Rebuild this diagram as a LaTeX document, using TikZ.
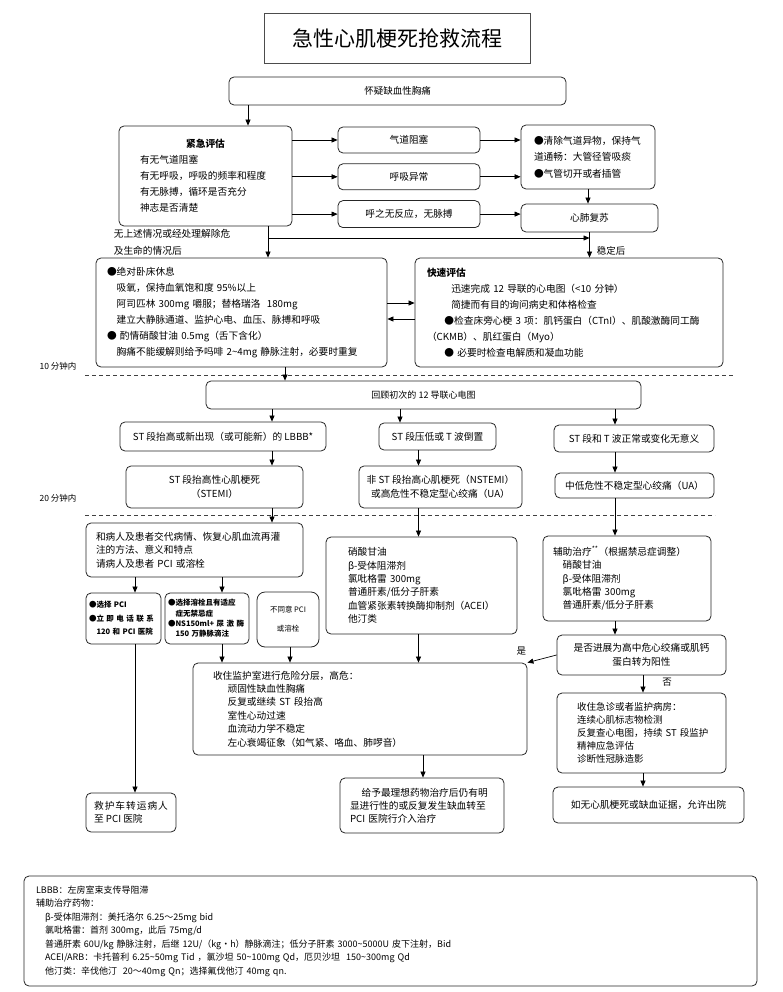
\documentclass[tikz,border=0pt]{standalone}
\usepackage{fontspec}
\setmainfont{Noto Sans CJK SC}
\usetikzlibrary{arrows.meta, positioning}

\begin{document}
\begin{tikzpicture}[x=1pt, y=-1pt,
      box/.style={draw=black!85, line width=0.8pt, rounded corners=5pt, inner sep=0pt, align=center, font=\fontsize{9.7}{14}\selectfont},
      lbox/.style={box, align=left},
      tinybox/.style={box, align=left, font=\fontsize{7.5}{13.5}\selectfont\bfseries},
      arr/.style={-{Triangle[length=6pt, width=5pt]}, line width=0.7pt},
      lbl/.style={font=\fontsize{9.5}{12}\selectfont, inner sep=1pt},
      sep/.style={dash pattern=on 4pt off 3pt, line width=0.8pt, black!75},
    ]
    \useasboundingbox (0,0) rectangle (782,992);

    \node[draw=black!70, line width=0.8pt, minimum width=266pt, minimum height=50pt, font=\fontsize{21}{24}\selectfont] (title) at (397,38) {急性心肌梗死抢救流程};
    \node[box, minimum width=337pt, minimum height=28pt, font=\fontsize{9.5}{12}\selectfont] (suspect) at (397.5,91) {怀疑缺血性胸痛};

    \node[lbox, minimum width=173pt, minimum height=100pt, text width=131pt, font=\fontsize{9.7}{16}\selectfont] (emg_eval) at (205.5,176) {\makebox[\linewidth]{\textbf{紧急评估}}\\有无气道阻塞\\有无呼吸，呼吸的频率和程度\\有无脉搏，循环是否充分\\神志是否清楚};
    \node[box, minimum width=142pt, minimum height=26pt] (airway) at (409,140) {气道阻塞};
    \node[box, minimum width=142pt, minimum height=26pt, below=10pt of airway] (breath) {呼吸异常};
    \node[box, minimum width=142pt, minimum height=27pt, below=10pt of breath] (nopulse) {呼之无反应，无脉搏};
    \node[lbox, minimum width=134pt, minimum height=64pt, text width=108pt, font=\fontsize{9.7}{16.5}\selectfont] (clear) at (588,157) {●清除气道异物，保持气\\道通畅：大管径管吸痰\\●气管切开或者插管};
    \node[box, minimum width=137pt, minimum height=28pt] (cpr) at (589.5,218) {心肺复苏};

    \node[lbl, anchor=north west, align=left, font=\fontsize{9.7}{17}\selectfont] (escape_note) at ([xshift=-6pt, yshift=-2pt]emg_eval.south west) {无上述情况或经处理解除危\\及生命的情况后};

    \node[lbox, minimum width=291pt, minimum height=109pt, text width=269pt, font=\fontsize{9.7}{16}\selectfont] (rest) at (241.5,312.5) {●绝对卧床休息\\\hspace*{1em}吸氧，保持血氧饱和度~95\%以上\\\hspace*{1em}阿司匹林~300mg~嚼服；替格瑞洛~~180mg\\\hspace*{1em}建立大静脉通道、监护心电、血压、脉搏和呼吸\\●~酌情硝酸甘油~0.5mg（舌下含化）\\\hspace*{1em}胸痛不能缓解则给予吗啡~2\textasciitilde4mg~静脉注射，必要时重复};
    \node[lbox, minimum width=308pt, minimum height=109pt, text width=284pt, font=\fontsize{9.7}{16}\selectfont] (quick) at (569,312.5) {\textbf{快速评估}\\\hspace*{2.5em}迅速完成~12~导联的心电图（<10~分钟）\\\hspace*{2.5em}简捷而有目的询问病史和体格检查\\\hspace*{1.8em}●检查床旁心梗~3~项：肌钙蛋白（CTnI）、肌酸激酶同工酶\\（CKMB）、肌红蛋白（Myo）\\\hspace*{1.8em}●~必要时检查电解质和凝血功能};

    \node[font=\fontsize{8.5}{10}\selectfont] (mark_10) at (58,366) {10 分钟内};
    \node[font=\fontsize{8.5}{10}\selectfont] (mark_20) at (58,498) {20 分钟内};
    \draw[sep] (85,375) -- (735,375);
    \draw[sep] (85,515) -- (715,515);

    \node[box, minimum width=435pt, minimum height=28pt, font=\fontsize{9}{12}\selectfont] (review) at (423.5,395) {回顾初次的 12 导联心电图};
    \node[box, minimum width=206pt, minimum height=29pt] (st_up) at (223,436.5) {ST 段抬高或新出现（或可能新）的 LBBB*};
    \node[box, minimum width=117pt, minimum height=27pt] (st_down) at (437.5,436.5) {ST 段压低或 T 波倒置};
    \node[box, minimum width=160pt, minimum height=27pt] (st_norm) at (634,438.5) {ST 段和 T 波正常或变化无意义};
    \node[box, minimum width=177pt, minimum height=42pt] (stemi) at (214.5,487) {ST 段抬高性心肌梗死\\（STEMI）};
    \node[box, minimum width=163pt, minimum height=42pt] (nstemi) at (440.5,487) {非 ST 段抬高心肌梗死（NSTEMI）\\或高危性不稳定型心绞痛（UA）};
    \node[box, minimum width=159pt, minimum height=25pt] (ua) at (634.5,485.5) {中低危性不稳定型心绞痛（UA）};

    \node[lbox, minimum width=217pt, minimum height=54pt, text width=197pt, font=\fontsize{9.7}{13.5}\selectfont] (inform) at (194.5,550) {和病人及患者交代病情、恢复心肌血流再灌\\注的方法、意义和特点\\请病人及患者~PCI~或溶栓};
    \node[tinybox, minimum width=75pt, minimum height=51pt, text width=69pt] (pci) at (123.5,618.5) {●选择~PCI\\●立~即~电~话~联~系\\\hspace*{1em}120~和~PCI~医院};
    \node[tinybox, minimum width=84pt, minimum height=51pt, text width=78pt, font=\fontsize{7.5}{10.4}\selectfont\bfseries] (lysis) at (207,618.5) {●选择溶栓且有适应\\\hspace*{1em}症无禁忌症\\●NS150ml+~尿~激~酶\\\hspace*{1em}150~万静脉滴注};
    \node[box, rounded corners=8pt, minimum width=62pt, minimum height=55pt, font=\fontsize{7.5}{10}\selectfont] (refuse) at (288,619.5) {不同意 PCI\\[9pt]或溶栓};
    \node[lbox, minimum width=191pt, minimum height=97pt, text width=147pt, font=\fontsize{9.7}{13.3}\selectfont] (ns_drug) at (421.5,585.5) {硝酸甘油\\β-受体阻滞剂\\氯吡格雷~300mg\\普通肝素/低分子肝素\\血管紧张素转换酶抑制剂（ACEI）\\他汀类};
    \node[lbox, minimum width=168pt, minimum height=85pt, text width=148pt, font=\fontsize{9.7}{13.3}\selectfont] (ua_drug) at (627,578.5) {辅助治疗\textsuperscript{**}（根据禁忌症调整）\\\hspace*{1em}硝酸甘油\\\hspace*{1em}β-受体阻滞剂\\\hspace*{1em}氯吡格雷~300mg\\\hspace*{1em}普通肝素/低分子肝素};
    \node[box, minimum width=169pt, minimum height=40pt] (progress) at (641.5,655) {是否进展为高中危心绞痛或肌钙\\蛋白转为阳性};

    \node[lbox, minimum width=334pt, minimum height=92pt, text width=294pt, font=\fontsize{9.7}{13.4}\selectfont] (ccu) at (360,709) {收住监护室进行危险分层，高危：\\\hspace*{1.5em}顽固性缺血性胸痛\\\hspace*{1.5em}反复或继续~ST~段抬高\\\hspace*{1.5em}室性心动过速\\\hspace*{1.5em}血流动力学不稳定\\\hspace*{1.5em}左心衰竭征象（如气紧、咯血、肺啰音）};
    \node[lbox, minimum width=169pt, minimum height=80pt, text width=129pt, font=\fontsize{9.5}{13}\selectfont] (observe) at (641.5,733) {收住急诊或者监护病房：\\连续心肌标志物检测\\反复查心电图，持续~ST~段监护\\精神应急评估\\诊断性冠脉造影};
    \node[box, minimum width=90pt, minimum height=39pt, align=left, font=\fontsize{9.7}{13}\selectfont] (ambulance) at (131,812.5) {救\hspace{1pt}护\hspace{1pt}车\hspace{1pt}转\hspace{1pt}运\hspace{1pt}病\hspace{1pt}人\\至 PCI 医院};
    \node[lbox, minimum width=164pt, minimum height=55pt, text width=144pt, font=\fontsize{9.7}{13}\selectfont] (refer) at (422,805.5) {\hspace*{1.2em}给予最理想药物治疗后仍有明\\显进行性的或反复发生缺血转至\\PCI~医院行介入治疗};
    \node[box, minimum width=191pt, minimum height=36pt] (discharge) at (648.5,805) {如无心肌梗死或缺血证据，允许出院};

    \node[lbox, minimum width=733pt, minimum height=110pt, text width=709pt, font=\fontsize{9}{13.5}\selectfont] (legend) at (390.5,931) {LBBB：左房室束支传导阻滞\\辅助治疗药物：\\\hspace*{1em}β-受体阻滞剂：美托洛尔~6.25～25mg~bid\\\hspace*{1em}氯吡格雷：首剂~300mg，此后~75mg/d\\\hspace*{1em}普通肝素~60U/kg~静脉注射，后继~12U/（kg・h）静脉滴注；低分子肝素~3000\textasciitilde5000U~皮下注射，Bid\\\hspace*{1em}ACEI/ARB：卡托普利~6.25\textasciitilde50mg~Tid~，氯沙坦~50\textasciitilde100mg~Qd，厄贝沙坦~~150\textasciitilde300mg~Qd\\\hspace*{1em}他汀类：辛伐他汀~~20～40mg~Qn；选择氟伐他汀~40mg~qn.};

    \coordinate (lane_emg) at (248,0);
    \coordinate (lane_rest) at (268,0);
    \coordinate (lane_review) at (285,0);
    \coordinate (lane_stemi) at (272,0);
    \coordinate (lane_stdown) at (400,0);
    \coordinate (lane_nstemi) at (418.5,0);
    \coordinate (lane_ua) at (615,0);
    \coordinate (lane_pci) at (135,0);
    \coordinate (lane_lysis) at (222,0);
    \coordinate (lane_refuse) at (290,0);
    \coordinate (lane_refer) at (423,0);
    \coordinate (lane_observe) at (643,0);
    \coordinate (bend_cpr) at (268,238);

    \draw[arr] (suspect.south -| lane_emg) -- (emg_eval.north -| lane_emg);
    \draw[arr] (emg_eval.east |- airway) -- (airway);
    \draw[arr] (emg_eval.east |- breath) -- (breath);
    \draw[arr] (emg_eval.east |- nopulse) -- (nopulse);
    \draw[arr] (airway.east) -- (airway.east -| clear.west);
    \draw[arr] (breath.east) -- (breath.east -| clear.west);
    \draw[arr] (nopulse.east) -- (nopulse.east -| cpr.west);
    \draw[arr] (clear.south) -- (clear.south |- cpr.north);

    \draw[arr] (emg_eval.south -| lane_rest) -- (rest.north -| lane_rest);
    \draw[arr] (bend_cpr) -- (bend_cpr -| cpr.south);
    \draw[arr] (cpr.south) -- node[lbl, right, pos=0.75, xshift=6pt] {稳定后} (cpr.south |- quick.north);
    \draw[arr] ([yshift=9.5pt]rest.east) -- ([yshift=9.5pt]quick.west);
    \draw[arr] ([yshift=-6.5pt]quick.west) -- ([yshift=-6.5pt]rest.east);

    \draw[arr] (rest.south -| lane_review) -- (review.north -| lane_review);
    \draw[arr] (review.south -| lane_stemi) -- (st_up.north -| lane_stemi);
    \draw[arr] (review.south -| lane_stdown) -- (st_down.north -| lane_stdown);
    \draw[arr] (review.south -| lane_ua) -- (st_norm.north -| lane_ua);
    \draw[arr] (st_up.south -| lane_stemi) -- (stemi.north -| lane_stemi);
    \draw[arr] (st_down.south -| lane_nstemi) -- (nstemi.north -| lane_nstemi);
    \draw[arr] (st_norm.south -| lane_ua) -- (ua.north -| lane_ua);

    \draw[arr] (stemi.south -| lane_stemi) -- (inform.north -| lane_stemi);
    \draw[arr] (nstemi.south -| lane_nstemi) -- (ns_drug.north -| lane_nstemi);
    \draw[arr] (ua.south -| lane_ua) -- (ua_drug.north -| lane_ua);
    \draw[arr] (inform.south -| lane_pci) -- (pci.north -| lane_pci);
    \draw[arr] (inform.south -| lane_lysis) -- (lysis.north -| lane_lysis);
    \draw[arr] (pci.south -| lane_pci) -- (ambulance.north -| lane_pci);
    \draw[arr] (lysis.south -| lane_lysis) -- (ccu.north -| lane_lysis);
    \draw[arr] (refuse.south -| lane_refuse) -- (ccu.north -| lane_refuse);
    \draw[arr] (ns_drug.south -| lane_nstemi) -- (ccu.north -| lane_nstemi);
    \draw[arr] (ua_drug.south -| lane_ua) -- (progress.north -| lane_ua);
    \draw[arr] (progress.west) -- node[lbl, pos=1, above left, yshift=6pt] {是} (ccu.north east);
    \draw[arr] (progress.south -| lane_observe) -- node[lbl, right=18pt, pos=0.4] {否} (observe.north -| lane_observe);
    \draw[arr] (ccu.south -| lane_refer) -- (refer.north -| lane_refer);
    \draw[arr] (observe.south -| lane_observe) -- (discharge.north -| lane_observe);
  \end{tikzpicture}
\end{document}
